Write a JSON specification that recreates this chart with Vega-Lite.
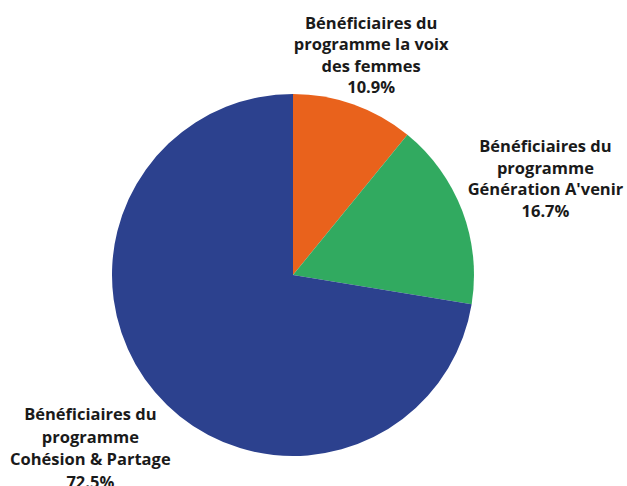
{
  "$schema": "https://vega.github.io/schema/vega-lite/v6.json",
  "autosize": "none",
  "width": 586,
  "height": 422,
  "padding": {"left": 0, "top": 64, "right": 41, "bottom": 0},
  "background": "white",
  "config": {"view": {"stroke": null}, "text": {"lineBreak": "\n"}},
  "data": {
    "values": [
      {"idx": 1, "category": "Voix des femmes", "share": 10.9, "label": "Bénéficiaires du\nprogramme la voix\ndes femmes\n10.9%"},
      {"idx": 2, "category": "Génération A'venir", "share": 16.7, "label": "Bénéficiaires du\nprogramme\nGénération A'venir\n16.7%"},
      {"idx": 3, "category": "Cohésion & Partage", "share": 72.5, "label": "Bénéficiaires du\nprogramme\nCohésion & Partage\n72.5%"}
    ]
  },
  "encoding": {
    "theta": {"field": "share", "type": "quantitative", "stack": true},
    "order": {"field": "idx", "type": "quantitative"}
  },
  "layer": [
    {
      "mark": {"type": "arc", "outerRadius": 181},
      "encoding": {
        "color": {
          "field": "category",
          "type": "nominal",
          "scale": {
            "domain": ["Voix des femmes", "Génération A'venir", "Cohésion & Partage"],
            "range": ["#E9621C", "#31AA60", "#2C418E"]
          },
          "legend": null
        }
      }
    },
    {
      "mark": {"type": "text", "radius": 233, "dy": -32, "font": "Open Sans", "fontWeight": "bold", "fontSize": 16.5, "lineHeight": 21.5, "align": "center", "baseline": "middle", "color": "#1a1a1a"},
      "encoding": {"text": {"condition": {"test": "datum.idx === 1", "field": "label"}, "value": ""}}
    },
    {
      "mark": {"type": "text", "radius": 270, "dy": -32, "font": "Open Sans", "fontWeight": "bold", "fontSize": 16.5, "lineHeight": 21.5, "align": "center", "baseline": "middle", "color": "#1a1a1a"},
      "encoding": {"text": {"condition": {"test": "datum.idx === 2", "field": "label"}, "value": ""}}
    },
    {
      "mark": {"type": "text", "radius": 266, "dy": -32, "font": "Open Sans", "fontWeight": "bold", "fontSize": 16.5, "lineHeight": 22.5, "align": "center", "baseline": "middle", "color": "#1a1a1a"},
      "encoding": {"text": {"condition": {"test": "datum.idx === 3", "field": "label"}, "value": ""}}
    }
  ]
}
